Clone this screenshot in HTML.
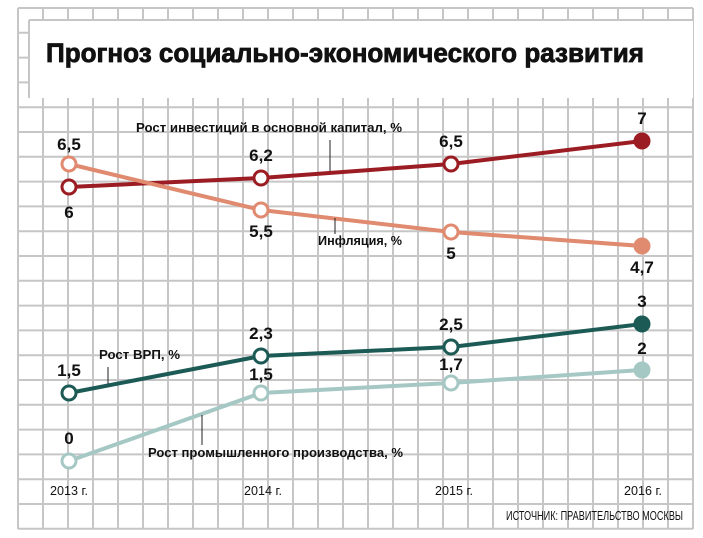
<!DOCTYPE html>
<html><head><meta charset="utf-8"><style>
body{margin:0;background:#fff}
svg{display:block}
text{font-family:"Liberation Sans",sans-serif;font-weight:bold;fill:#111}
.l{font-size:13px}
.v{font-size:17px}
.y{font-size:13px;font-weight:normal}
</style></head><body>
<svg width="703" height="538" viewBox="0 0 703 538" xmlns="http://www.w3.org/2000/svg">
<rect width="703" height="538" fill="#fff"/>
<g stroke="#c6c6c6" stroke-width="2">
<line x1="18" y1="8" x2="18" y2="529"/><line x1="43" y1="8" x2="43" y2="529"/><line x1="68" y1="8" x2="68" y2="529"/><line x1="93" y1="8" x2="93" y2="529"/><line x1="118" y1="8" x2="118" y2="529"/><line x1="143" y1="8" x2="143" y2="529"/><line x1="168" y1="8" x2="168" y2="529"/><line x1="193" y1="8" x2="193" y2="529"/><line x1="218" y1="8" x2="218" y2="529"/><line x1="243" y1="8" x2="243" y2="529"/><line x1="268" y1="8" x2="268" y2="529"/><line x1="293" y1="8" x2="293" y2="529"/><line x1="318" y1="8" x2="318" y2="529"/><line x1="343" y1="8" x2="343" y2="529"/><line x1="368" y1="8" x2="368" y2="529"/><line x1="393" y1="8" x2="393" y2="529"/><line x1="418" y1="8" x2="418" y2="529"/><line x1="443" y1="8" x2="443" y2="529"/><line x1="468" y1="8" x2="468" y2="529"/><line x1="493" y1="8" x2="493" y2="529"/><line x1="518" y1="8" x2="518" y2="529"/><line x1="543" y1="8" x2="543" y2="529"/><line x1="568" y1="8" x2="568" y2="529"/><line x1="593" y1="8" x2="593" y2="529"/><line x1="618" y1="8" x2="618" y2="529"/><line x1="643" y1="8" x2="643" y2="529"/><line x1="668" y1="8" x2="668" y2="529"/><line x1="693" y1="8" x2="693" y2="529"/>
<line x1="18" y1="8" x2="693" y2="8"/><line x1="18" y1="32.8" x2="693" y2="32.8"/><line x1="18" y1="57.6" x2="693" y2="57.6"/><line x1="18" y1="82.4" x2="693" y2="82.4"/><line x1="18" y1="107.2" x2="693" y2="107.2"/><line x1="18" y1="132" x2="693" y2="132"/><line x1="18" y1="156.8" x2="693" y2="156.8"/><line x1="18" y1="181.6" x2="693" y2="181.6"/><line x1="18" y1="206.4" x2="693" y2="206.4"/><line x1="18" y1="231.2" x2="693" y2="231.2"/><line x1="18" y1="256" x2="693" y2="256"/><line x1="18" y1="280.8" x2="693" y2="280.8"/><line x1="18" y1="305.6" x2="693" y2="305.6"/><line x1="18" y1="330.4" x2="693" y2="330.4"/><line x1="18" y1="355.2" x2="693" y2="355.2"/><line x1="18" y1="380" x2="693" y2="380"/><line x1="18" y1="404.8" x2="693" y2="404.8"/><line x1="18" y1="429.6" x2="693" y2="429.6"/><line x1="18" y1="454.4" x2="693" y2="454.4"/><line x1="18" y1="479.2" x2="693" y2="479.2"/><line x1="18" y1="504" x2="693" y2="504"/><line x1="18" y1="528.8" x2="693" y2="528.8"/>
</g>
<rect x="29" y="20" width="664" height="78" fill="#fff"/>
<line x1="29" y1="20" x2="29" y2="98" stroke="#c6c6c6" stroke-width="2"/>
<line x1="29" y1="20" x2="693" y2="20" stroke="#c6c6c6" stroke-width="2"/>
<text x="46" y="62" style="font-size:27px;font-weight:900;stroke:#111;stroke-width:0.8" textLength="598" lengthAdjust="spacingAndGlyphs">Прогноз социально-экономического развития</text>

<g fill="none" stroke-width="4" stroke-linejoin="round">
<polyline points="69,187 261,178 451,164 642,141" stroke="#9b1c23"/>
<polyline points="69,164 261,210 451,232 642,246" stroke="#e08a70"/>
<polyline points="69,393 261,356 451,347 642,324" stroke="#1c5a55"/>
<polyline points="69,461 261,393 451,383 642,370" stroke="#a5c8c4"/>
</g>
<g stroke="#222" stroke-width="1">
<line x1="330" y1="140" x2="330" y2="171"/>
<line x1="335" y1="218" x2="335" y2="234"/>
<line x1="108" y1="367" x2="108" y2="384"/>
<line x1="202" y1="415" x2="202" y2="445"/>
</g>
<g stroke-width="3">
<circle cx="69" cy="187" r="7" fill="#fff" stroke="#9b1c23"/>
<circle cx="261" cy="178" r="7" fill="#fff" stroke="#9b1c23"/>
<circle cx="451" cy="164" r="7" fill="#fff" stroke="#9b1c23"/>
<circle cx="642" cy="141" r="7" fill="#9b1c23" stroke="#9b1c23"/>
<circle cx="69" cy="164" r="7" fill="#fff" stroke="#e08a70"/>
<circle cx="261" cy="210" r="7" fill="#fff" stroke="#e08a70"/>
<circle cx="451" cy="232" r="7" fill="#fff" stroke="#e08a70"/>
<circle cx="642" cy="246" r="7" fill="#e08a70" stroke="#e08a70"/>
<circle cx="69" cy="393" r="7" fill="#fff" stroke="#1c5a55"/>
<circle cx="261" cy="356" r="7" fill="#fff" stroke="#1c5a55"/>
<circle cx="451" cy="347" r="7" fill="#fff" stroke="#1c5a55"/>
<circle cx="642" cy="324" r="7" fill="#1c5a55" stroke="#1c5a55"/>
<circle cx="69" cy="461" r="7" fill="#fff" stroke="#a5c8c4"/>
<circle cx="261" cy="393" r="7" fill="#fff" stroke="#a5c8c4"/>
<circle cx="451" cy="383" r="7" fill="#fff" stroke="#a5c8c4"/>
<circle cx="642" cy="370" r="7" fill="#a5c8c4" stroke="#a5c8c4"/>
</g>
<g text-anchor="middle">
<text class="v" x="69" y="150">6,5</text>
<text class="v" x="69" y="218">6</text>
<text class="v" x="261" y="161">6,2</text>
<text class="v" x="261" y="237">5,5</text>
<text class="v" x="451" y="147">6,5</text>
<text class="v" x="451" y="259">5</text>
<text class="v" x="642" y="124">7</text>
<text class="v" x="642" y="273">4,7</text>
<text class="v" x="69" y="376">1,5</text>
<text class="v" x="69" y="444">0</text>
<text class="v" x="261" y="339">2,3</text>
<text class="v" x="261" y="380">1,5</text>
<text class="v" x="451" y="330">2,5</text>
<text class="v" x="451" y="370">1,7</text>
<text class="v" x="642" y="307">3</text>
<text class="v" x="642" y="354">2</text>
</g>
<text class="l" x="136" y="132" textLength="266" lengthAdjust="spacingAndGlyphs">Рост инвестиций в основной капитал, %</text>
<text class="l" x="318" y="245" textLength="84" lengthAdjust="spacingAndGlyphs">Инфляция, %</text>
<text class="l" x="99" y="359" textLength="81" lengthAdjust="spacingAndGlyphs">Рост ВРП, %</text>
<text class="l" x="148" y="457" textLength="255" lengthAdjust="spacingAndGlyphs">Рост промышленного производства, %</text>
<text class="y" x="50" y="495" textLength="38" lengthAdjust="spacingAndGlyphs">2013 г.</text>
<text class="y" x="244" y="495" textLength="38" lengthAdjust="spacingAndGlyphs">2014 г.</text>
<text class="y" x="435" y="495" textLength="38" lengthAdjust="spacingAndGlyphs">2015 г.</text>
<text class="y" x="624" y="495" textLength="38" lengthAdjust="spacingAndGlyphs">2016 г.</text>
<text class="y" x="506" y="520" textLength="177" lengthAdjust="spacingAndGlyphs">ИСТОЧНИК: ПРАВИТЕЛЬСТВО МОСКВЫ</text>
</svg>
</body></html>
